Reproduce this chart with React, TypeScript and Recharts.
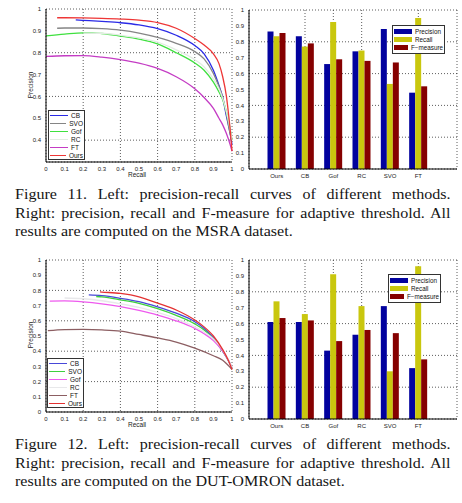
import React from 'react';
import {
  LineChart,
  Line,
  BarChart,
  Bar,
  XAxis,
  YAxis,
  CartesianGrid,
} from 'recharts';

// recall / precision pairs
const msraCB = [[0.16, 0.95], [0.2, 0.948], [0.3, 0.943], [0.4, 0.937], [0.5, 0.927], [0.6, 0.91], [0.7, 0.88], [0.8, 0.833], [0.85, 0.795], [0.9, 0.72], [0.93, 0.65], [0.95, 0.595], [0.97, 0.51], [0.99, 0.43], [1.0, 0.38]];
const msraSVO = [[0.06, 0.912], [0.1, 0.913], [0.2, 0.913], [0.3, 0.91], [0.4, 0.903], [0.5, 0.89], [0.6, 0.87], [0.7, 0.843], [0.8, 0.805], [0.85, 0.772], [0.9, 0.705], [0.93, 0.645], [0.95, 0.595], [0.97, 0.52], [0.99, 0.43], [1.0, 0.4]];
const msraGof = [[0.0, 0.877], [0.1, 0.885], [0.2, 0.891], [0.25, 0.891], [0.3, 0.888], [0.4, 0.876], [0.5, 0.862], [0.6, 0.84], [0.7, 0.8], [0.8, 0.753], [0.85, 0.72], [0.9, 0.665], [0.93, 0.62], [0.95, 0.585], [0.97, 0.53], [0.99, 0.45], [1.0, 0.4]];
const msraRC = [[0.2, 0.89], [0.3, 0.889], [0.4, 0.88], [0.5, 0.868], [0.6, 0.848], [0.7, 0.813], [0.8, 0.768], [0.85, 0.735], [0.9, 0.68], [0.93, 0.635], [0.95, 0.59], [0.97, 0.53], [0.99, 0.45], [1.0, 0.4]];
const msraFT = [[0.0, 0.783], [0.1, 0.786], [0.2, 0.787], [0.3, 0.78], [0.4, 0.768], [0.5, 0.752], [0.6, 0.728], [0.7, 0.69], [0.8, 0.635], [0.85, 0.595], [0.9, 0.545], [0.93, 0.5], [0.95, 0.47], [0.97, 0.43], [0.99, 0.38], [1.0, 0.35]];
const msraOurs = [[0.06, 0.96], [0.1, 0.96], [0.2, 0.959], [0.3, 0.957], [0.4, 0.954], [0.5, 0.949], [0.6, 0.938], [0.7, 0.912], [0.8, 0.865], [0.85, 0.835], [0.9, 0.795], [0.93, 0.75], [0.95, 0.69], [0.97, 0.6], [0.98, 0.53], [0.99, 0.45], [1.0, 0.35]];

const dutCB = [[0.23, 0.77], [0.3, 0.765], [0.4, 0.748], [0.5, 0.726], [0.6, 0.692], [0.7, 0.65], [0.8, 0.594], [0.85, 0.55], [0.9, 0.487], [0.95, 0.4], [0.98, 0.34], [1.0, 0.29]];
const dutSVO = [[0.27, 0.76], [0.3, 0.757], [0.4, 0.738], [0.5, 0.715], [0.6, 0.68], [0.7, 0.636], [0.8, 0.58], [0.85, 0.54], [0.9, 0.48], [0.95, 0.4], [0.98, 0.34], [1.0, 0.29]];
const dutGof = [[0.02, 0.73], [0.1, 0.731], [0.2, 0.725], [0.3, 0.712], [0.4, 0.693], [0.5, 0.668], [0.6, 0.638], [0.7, 0.6], [0.8, 0.55], [0.85, 0.515], [0.9, 0.47], [0.95, 0.4], [0.98, 0.34], [1.0, 0.29]];
const dutRC = [[0.1, 0.75], [0.2, 0.745], [0.3, 0.732], [0.4, 0.712], [0.5, 0.688], [0.6, 0.655], [0.7, 0.615], [0.8, 0.56], [0.9, 0.48], [0.95, 0.41], [1.0, 0.29]];
const dutFT = [[0.01, 0.535], [0.1, 0.542], [0.2, 0.543], [0.3, 0.54], [0.4, 0.532], [0.5, 0.51], [0.6, 0.487], [0.7, 0.46], [0.8, 0.42], [0.9, 0.37], [0.95, 0.34], [1.0, 0.28]];
const dutOurs = [[0.29, 0.79], [0.3, 0.789], [0.4, 0.78], [0.5, 0.758], [0.6, 0.716], [0.7, 0.671], [0.8, 0.605], [0.85, 0.56], [0.9, 0.5], [0.95, 0.41], [0.98, 0.34], [1.0, 0.28]];

const methods = ['Ours', 'CB', 'Gof', 'RC', 'SVO', 'FT'];
const msraPrecision = [0.865, 0.835, 0.66, 0.74, 0.88, 0.48];
const msraRecall = [0.835, 0.77, 0.925, 0.745, 0.535, 0.95];
const msraFmeasure = [0.855, 0.79, 0.69, 0.68, 0.67, 0.52];
const dutPrecision = [0.61, 0.61, 0.43, 0.53, 0.71, 0.32];
const dutRecall = [0.74, 0.66, 0.91, 0.71, 0.3, 0.96];
const dutFmeasure = [0.635, 0.62, 0.49, 0.56, 0.54, 0.375];

const recallTicks = [0, 0.1, 0.2, 0.3, 0.4, 0.5, 0.6, 0.7, 0.8, 0.9, 1];
const msraPrecisionTicks = [0.3, 0.4, 0.5, 0.6, 0.7, 0.8, 0.9, 1];
const dutPrecisionTicks = [0, 0.1, 0.2, 0.3, 0.4, 0.5, 0.6, 0.7, 0.8, 0.9, 1];
const barTicks = [0, 0.1, 0.2, 0.3, 0.4, 0.5, 0.6, 0.7, 0.8, 0.9, 1];

const caption11 = [
  'Figure 11. Left:  precision-recall curves of different methods.',
  'Right: precision, recall and F-measure for adaptive threshold. All',
  'results are computed on the MSRA dataset.',
];
const caption12 = [
  'Figure 12. Left:  precision-recall curves of different methods.',
  'Right: precision, recall and F-measure for adaptive threshold. All',
  'results are computed on the DUT-OMRON dataset.',
];

interface Curve {
  name: string;
  color: string;
  points: number[][];
}

const msraCurves: Curve[] = [
  { name: 'CB', color: '#2a2ae6', points: msraCB },
  { name: 'SVO', color: '#858585', points: msraSVO },
  { name: 'Gof', color: '#3fe03f', points: msraGof },
  { name: 'RC', color: '#e2ece2', points: msraRC },
  { name: 'FT', color: '#c43cc4', points: msraFT },
  { name: 'Ours', color: '#ee3636', points: msraOurs },
];

const dutCurves: Curve[] = [
  { name: 'CB', color: '#4848d8', points: dutCB },
  { name: 'SVO', color: '#3ed03e', points: dutSVO },
  { name: 'Gof', color: '#ee5aee', points: dutGof },
  { name: 'RC', color: '#e8e8ea', points: dutRC },
  { name: 'FT', color: '#8c5e62', points: dutFT },
  { name: 'Ours', color: '#e43232', points: dutOurs },
];

const FONT = '"Liberation Sans", Arial, sans-serif';
const tickStyle = { fontSize: 6, fill: '#222', fontFamily: FONT };
const titleStyle: React.CSSProperties = {
  position: 'absolute',
  fontFamily: FONT,
  fontSize: 6.5,
  color: '#222',
  lineHeight: '7px',
  whiteSpace: 'nowrap',
};

const CurveLegend = ({ curves, left, top }: { curves: Curve[]; left: number; top: number }) => (
  <div
    style={{
      position: 'absolute',
      left,
      top,
      border: '1px solid #333',
      background: '#fff',
      width: 33,
      padding: '0 1px',
      fontFamily: FONT,
      fontSize: 6.5,
      color: '#111',
    }}
  >
    {curves.map((c) => (
      <div key={c.name} style={{ display: 'flex', alignItems: 'center', height: 8 }}>
        <span style={{ width: 18, borderTop: `1.3px solid ${c.color}`, marginRight: 3 }} />
        <span>{c.name}</span>
      </div>
    ))}
  </div>
);

const PRChart = ({
  curves,
  ticks,
  yMin,
  height,
}: {
  curves: Curve[];
  ticks: number[];
  yMin: number;
  height: number;
}) => (
  <LineChart width={240} height={height} margin={{ top: 9, right: 8, left: 0, bottom: 0 }}>
    <CartesianGrid stroke="#333" strokeDasharray="1 2" strokeWidth={0.8} />
    <XAxis
      dataKey="r"
      type="number"
      domain={[0, 1]}
      ticks={recallTicks}
      tick={tickStyle}
      tickLine={false}
      tickSize={3}
      height={23}
      stroke="#000"
    />
    <XAxis xAxisId="top" orientation="top" type="number" domain={[0, 1]} tick={false} tickLine={false} height={0} stroke="#000" />
    <YAxis
      type="number"
      domain={[yMin, 1]}
      ticks={ticks}
      tick={tickStyle}
      tickFormatter={(v: number) => (v === yMin && yMin > 0 ? '' : String(v))}
      tickLine={false}
      tickSize={3}
      width={46}
      stroke="#000"
    />
    <YAxis yAxisId="right" orientation="right" type="number" domain={[yMin, 1]} tick={false} tickLine={false} width={0} stroke="#000" />
    {curves.map((c) => (
      <Line
        key={c.name}
        name={c.name}
        data={c.points.map(([r, p]) => ({ r, p }))}
        dataKey="p"
        type="monotone"
        stroke={c.color}
        strokeWidth={1.3}
        dot={false}
        isAnimationActive={false}
      />
    ))}
  </LineChart>
);

const barSeries = [
  { key: 'precision', name: 'Precision', color: '#02029e' },
  { key: 'recall', name: 'Recall', color: '#c9c70e' },
  { key: 'fmeasure', name: 'F\u2212measure', color: '#850000' },
];

const BarLegend = ({ left, top }: { left: number; top: number }) => (
  <div
    style={{
      position: 'absolute',
      left,
      top,
      border: '1px solid #333',
      background: '#fff',
      width: 49,
      padding: '1px 1px',
      fontFamily: FONT,
      fontSize: 6.3,
      color: '#111',
    }}
  >
    {barSeries.map((s) => (
      <div key={s.key} style={{ display: 'flex', alignItems: 'center', height: 8.3 }}>
        <span style={{ width: 18, height: 5, background: s.color, marginRight: 3 }} />
        <span>{s.name}</span>
      </div>
    ))}
  </div>
);

const ScoreChart = ({
  precision,
  recall,
  fmeasure,
}: {
  precision: number[];
  recall: number[];
  fmeasure: number[];
}) => {
  const rows = methods.map((m, i) => ({
    name: m,
    precision: precision[i],
    recall: recall[i],
    fmeasure: fmeasure[i],
  }));
  return (
    <BarChart
      width={232}
      height={185}
      data={rows}
      margin={{ top: 10, right: 5, left: 0, bottom: 0 }}
      barGap={0}
      barCategoryGap={5}
    >
      <CartesianGrid stroke="#333" strokeDasharray="1 2" strokeWidth={0.8} />
      <XAxis
        dataKey="name"
        padding={{ left: 13.5, right: 24.5 }}
        tick={tickStyle}
        tickLine={false}
        tickSize={3}
        height={16}
        stroke="#000"
      />
      <XAxis xAxisId="top" dataKey="name" orientation="top" tick={false} tickLine={false} height={0} stroke="#000" />
      <YAxis
        domain={[0, 1]}
        ticks={barTicks}
        tick={tickStyle}
        tickLine={false}
        tickSize={3}
        width={19}
        stroke="#000"
      />
      <YAxis yAxisId="right" orientation="right" domain={[0, 1]} tick={false} tickLine={false} width={0} stroke="#000" />
      {barSeries.map((s) => (
        <Bar key={s.key} dataKey={s.key} name={s.name} fill={s.color} isAnimationActive={false} />
      ))}
    </BarChart>
  );
};

const Caption = ({ lines, top }: { lines: string[]; top: number }) => (
  <div
    style={{
      position: 'absolute',
      left: 15,
      top,
      width: 407,
      transform: 'scaleX(1.07)',
      transformOrigin: '0 0',
      fontFamily: '"Liberation Serif", "Times New Roman", serif',
      fontSize: 15,
      lineHeight: '18.6px',
      color: '#151515',
    }}
  >
    {lines.map((l, i) => (
      <div
        key={i}
        style={{
          whiteSpace: 'nowrap',
          textAlign: 'justify',
          textAlignLast: i < lines.length - 1 ? 'justify' : 'left',
        }}
      >
        {l}
      </div>
    ))}
  </div>
);

const Panel = ({ left, top, children }: { left: number; top: number; children: React.ReactNode }) => (
  <div style={{ position: 'absolute', left, top }}>{children}</div>
);

export default function App() {
  return (
    <div style={{ position: 'absolute', left: 0, top: 0, width: 462, height: 503, background: '#fff', overflow: 'hidden' }}>
      <Panel left={0} top={0}>
        <PRChart curves={msraCurves} ticks={msraPrecisionTicks} yMin={0.3} height={185} />
      </Panel>
      <CurveLegend curves={msraCurves} left={48} top={110} />
      <div style={{ ...titleStyle, left: 128, top: 171 }}>Recall</div>
      <div style={{ ...titleStyle, left: 30, top: 85, transform: 'translate(-50%, -50%) rotate(-90deg)' }}>Precision</div>

      <Panel left={230} top={0}>
        <ScoreChart precision={msraPrecision} recall={msraRecall} fmeasure={msraFmeasure} />
      </Panel>
      <BarLegend left={392} top={25} />

      <Caption lines={caption11} top={185} />

      <Panel left={0} top={251}>
        <PRChart curves={dutCurves} ticks={dutPrecisionTicks} yMin={0} height={184} />
      </Panel>
      <CurveLegend curves={dutCurves} left={47} top={358} />
      <div style={{ ...titleStyle, left: 128, top: 421 }}>Recall</div>
      <div style={{ ...titleStyle, left: 30, top: 335, transform: 'translate(-50%, -50%) rotate(-90deg)' }}>Precision</div>

      <Panel left={230} top={250}>
        <ScoreChart precision={dutPrecision} recall={dutRecall} fmeasure={dutFmeasure} />
      </Panel>
      <BarLegend left={388} top={274} />

      <Caption lines={caption12} top={435} />
    </div>
  );
}
